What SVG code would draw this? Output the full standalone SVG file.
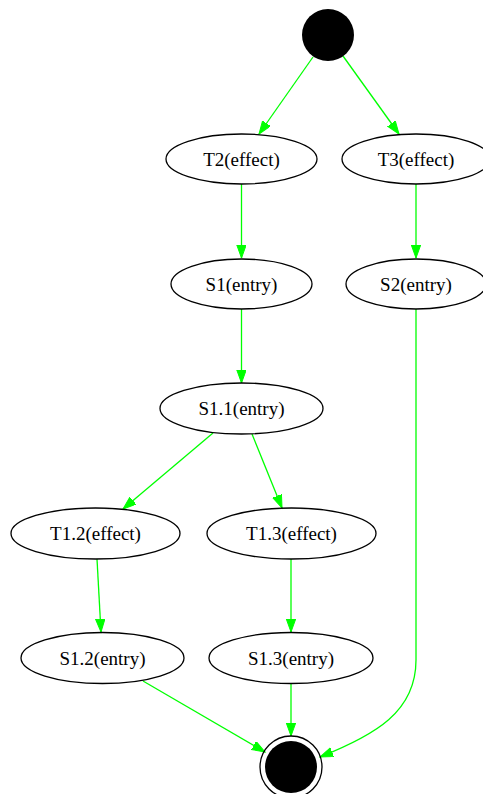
<svg xmlns="http://www.w3.org/2000/svg" width="483" height="794" viewBox="0 0 483 794">
  <style>
    .node ellipse { fill: none; stroke: #000; stroke-width: 1.3; }
    .node text { font-family: "Liberation Serif", "Times New Roman", serif; font-size: 19px; fill: #000; text-anchor: middle; }
    .edge { fill: none; stroke: #00ff00; stroke-width: 1.3; marker-end: url(#arrow); }
  </style>
  <defs>
    <marker id="arrow" markerUnits="userSpaceOnUse" markerWidth="15" markerHeight="11" refX="13" refY="4.7" orient="auto">
      <path d="M0,0 L13,4.7 L0,9.4 z" fill="#00ff00" stroke="#00ff00" stroke-width="1"/>
    </marker>
  </defs>
  <rect width="483" height="794" fill="#fff"/>

  <g id="connectors">
    <path class="edge" d="M313,57 L259,134"/>
    <path class="edge" d="M343,56 L399,134"/>
    <path class="edge" d="M241.5,184 L241.5,258"/>
    <path class="edge" d="M416,184 L416,258"/>
    <path class="edge" d="M241.5,309 L241.5,383"/>
    <path class="edge" d="M213,433 L123,509"/>
    <path class="edge" d="M252,434 L282,508"/>
    <path class="edge" d="M97,559 L101,632"/>
    <path class="edge" d="M291,559 L291,632"/>
    <path class="edge" d="M143,681 L265,752"/>
    <path class="edge" d="M291,684 L291,736"/>
    <path class="edge" d="M416,309 L416,660 C416,712 375,735 320,757"/>
  </g>

  <g id="start">
    <circle cx="328" cy="35" r="26" fill="#000"/>
  </g>
  <g id="T2" class="node">
    <ellipse cx="241.5" cy="159" rx="75.5" ry="25"/>
    <text x="241.5" y="165.5">T2(effect)</text>
  </g>
  <g id="T3" class="node">
    <ellipse cx="416" cy="159" rx="74" ry="25"/>
    <text x="416" y="165.5">T3(effect)</text>
  </g>
  <g id="S1" class="node">
    <ellipse cx="241.5" cy="284" rx="70.5" ry="25"/>
    <text x="241.5" y="290.5">S1(entry)</text>
  </g>
  <g id="S2" class="node">
    <ellipse cx="416" cy="284" rx="70" ry="25"/>
    <text x="416" y="290.5">S2(entry)</text>
  </g>
  <g id="S1_1" class="node">
    <ellipse cx="241.5" cy="408.5" rx="81.5" ry="25.5"/>
    <text x="241.5" y="415">S1.1(entry)</text>
  </g>
  <g id="T1_2" class="node">
    <ellipse cx="95.5" cy="533.5" rx="84.5" ry="25.5"/>
    <text x="95.5" y="540">T1.2(effect)</text>
  </g>
  <g id="T1_3" class="node">
    <ellipse cx="291.5" cy="533.5" rx="84.5" ry="25.5"/>
    <text x="291.5" y="540">T1.3(effect)</text>
  </g>
  <g id="S1_2" class="node">
    <ellipse cx="102.5" cy="658" rx="81.5" ry="25.5"/>
    <text x="102.5" y="664.5">S1.2(entry)</text>
  </g>
  <g id="S1_3" class="node">
    <ellipse cx="291" cy="658" rx="82" ry="25.5"/>
    <text x="291" y="664.5">S1.3(entry)</text>
  </g>
  <g id="end">
    <circle cx="291" cy="767" r="31" fill="none" stroke="#000" stroke-width="1.3"/>
    <circle cx="291" cy="767" r="26" fill="#000"/>
  </g>
</svg>
